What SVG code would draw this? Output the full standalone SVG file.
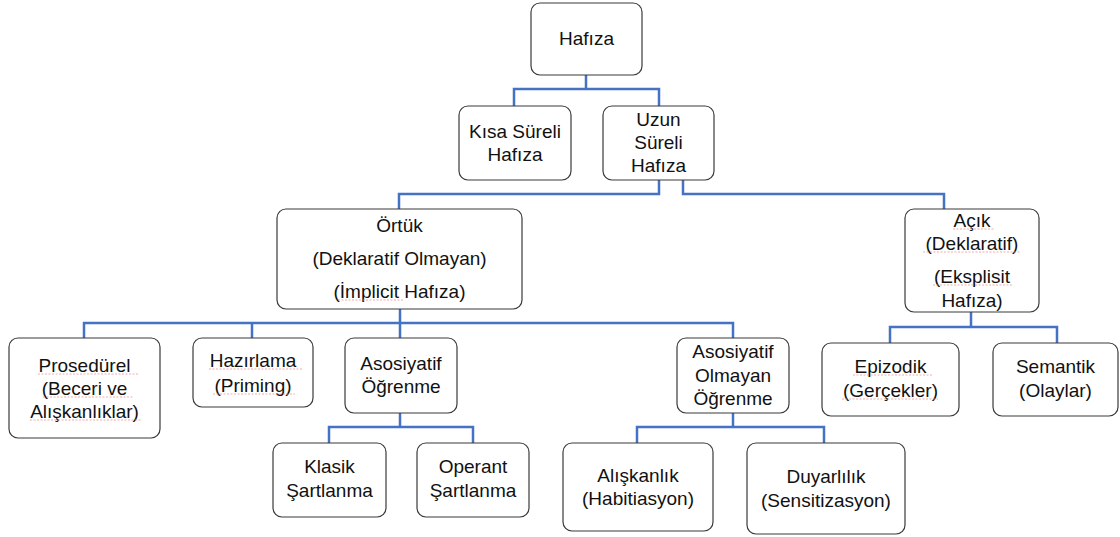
<svg xmlns="http://www.w3.org/2000/svg" width="1120" height="537" viewBox="0 0 1120 537">
<style>
.box{fill:#fff;stroke:#3a3a3a;stroke-width:1.2}
.t{font-family:"Liberation Sans",Arial,sans-serif;font-size:19px;fill:#111;text-anchor:middle}
.c{fill:none;stroke:#4472C4;stroke-width:2.5}
.sp{fill:none;stroke:#e88;stroke-width:1;stroke-dasharray:2 1.5;opacity:.7}
</style>
<rect width="1120" height="537" fill="#fff"/>
<g id="connectors">
<path class="c" d="M586,75 V89 H514 V106 M586,89 H659 V106"/>
<path class="c" d="M659,180 V194 H399 V209"/>
<path class="c" d="M683,180 V194 H944 V209"/>
<path class="c" d="M400,309 V323 H84 V338 M400,323 H252 V338 M400,323 V338 M400,323 H733 V338"/>
<path class="c" d="M400,413 V427 H329 V443 M400,427 H473 V443"/>
<path class="c" d="M733,413 V427 H637 V443 M733,427 H824 V443"/>
<path class="c" d="M971,312 V327 H890 V343 M971,327 H1057 V343"/>
</g>
<g id="hafiza"><rect class="box" x="531" y="3" width="111" height="72" rx="9"/><text class="t" x="586.5" y="45">Hafıza</text></g>
<g id="kisa-sureli"><rect class="box" x="459" y="106" width="112" height="74" rx="9"/><text class="t" x="515" y="138">Kısa Süreli</text><text class="t" x="515" y="161">Hafıza</text></g>
<g id="uzun-sureli"><rect class="box" x="603" y="106" width="111" height="74" rx="9"/><text class="t" x="658.5" y="126">Uzun</text><text class="t" x="658.5" y="149">Süreli</text><text class="t" x="658.5" y="172">Hafıza</text></g>
<g id="ortuk"><rect class="box" x="277" y="209" width="245" height="100" rx="9"/><text class="t" x="399.5" y="232">Örtük</text><text class="t" x="399.5" y="265">(Deklaratif Olmayan)</text><text class="t" x="399.5" y="298">(İmplicit Hafıza)</text><path class="sp" d="M338,300 H403"/></g>
<g id="acik"><rect class="box" x="905" y="209" width="134" height="103" rx="9"/><text class="t" x="972" y="227">Açık</text><text class="t" x="972" y="250">(Deklaratif)</text><text class="t" x="972" y="283">(Eksplisit</text><text class="t" x="972" y="307">Hafıza)</text><path class="sp" d="M953,229 H995 M923,252 H1021 M933,285 H1012"/></g>
<g id="prosedurel"><rect class="box" x="9" y="338" width="151" height="100" rx="9"/><text class="t" x="84.5" y="372">Prosedürel</text><text class="t" x="84.5" y="395">(Beceri ve</text><text class="t" x="84.5" y="418">Alışkanlıklar)</text><path class="sp" d="M38,374 H138 M43,397 H133 M30,420 H142"/></g>
<g id="hazirlama"><rect class="box" x="193" y="338" width="120" height="69" rx="9"/><text class="t" x="253" y="367">Hazırlama</text><text class="t" x="253" y="392">(Priming)</text><path class="sp" d="M209,369 H303 M213,394 H295"/></g>
<g id="asosiyatif"><rect class="box" x="345" y="338" width="112" height="75" rx="9"/><text class="t" x="401" y="370">Asosiyatif</text><text class="t" x="401" y="393">Öğrenme</text></g>
<g id="asosiyatif-olmayan"><rect class="box" x="677" y="338" width="112" height="75" rx="9"/><text class="t" x="733" y="358">Asosiyatif</text><text class="t" x="733" y="382">Olmayan</text><text class="t" x="733" y="405">Öğrenme</text></g>
<g id="epizodik"><rect class="box" x="822" y="343" width="137" height="73" rx="9"/><text class="t" x="890.5" y="373">Epizodik</text><text class="t" x="890.5" y="397">(Gerçekler)</text><path class="sp" d="M853,375 H932 M842,399 H938"/></g>
<g id="semantik"><rect class="box" x="993" y="343" width="125" height="73" rx="9"/><text class="t" x="1055.5" y="373">Semantik</text><text class="t" x="1055.5" y="397">(Olaylar)</text></g>
<g id="klasik"><rect class="box" x="273" y="443" width="113" height="74" rx="9"/><text class="t" x="329.5" y="473">Klasik</text><text class="t" x="329.5" y="497">Şartlanma</text></g>
<g id="operant"><rect class="box" x="417" y="443" width="112" height="74" rx="9"/><text class="t" x="473" y="473">Operant</text><text class="t" x="473" y="497">Şartlanma</text></g>
<g id="aliskanlik"><rect class="box" x="563" y="443" width="150" height="88" rx="9"/><text class="t" x="638" y="482">Alışkanlık</text><text class="t" x="638" y="505">(Habitiasyon)</text></g>
<g id="duyarlilik"><rect class="box" x="747" y="443" width="158" height="91" rx="9"/><text class="t" x="826" y="483">Duyarlılık</text><text class="t" x="826" y="507">(Sensitizasyon)</text></g>
</svg>
